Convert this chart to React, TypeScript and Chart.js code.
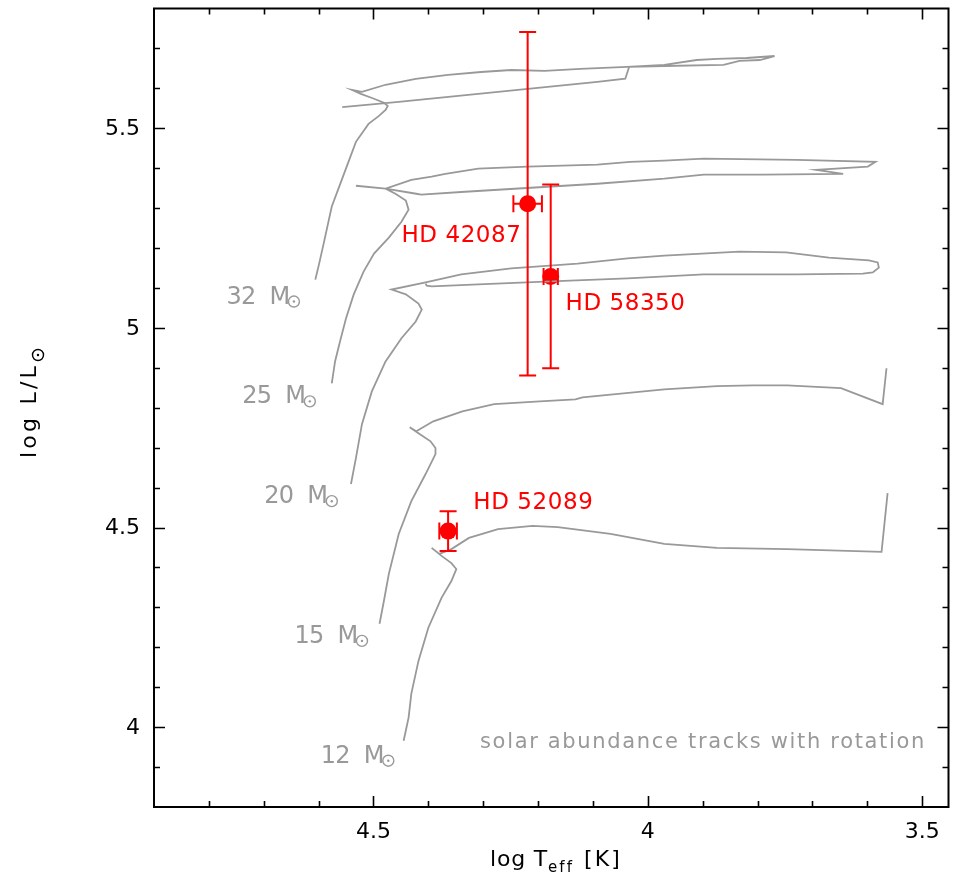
import React, { useEffect, useRef } from 'react';
import { Chart, registerables } from 'chart.js';

Chart.register(...registerables);

// ---- axis ranges & ticks ----
const X_MIN = 3.452;
const X_MAX = 4.9;
const Y_MIN = 3.8;
const Y_MAX = 5.8;
const xTickLabels = [4.5, 4, 3.5];
const xMinorTicks = [4.8, 4.7, 4.6, 4.4, 4.3, 4.2, 4.1, 3.9, 3.8, 3.7, 3.6];
const yTickLabels = [4, 4.5, 5, 5.5];
const yMinorTicks = [3.9, 4.1, 4.2, 4.3, 4.4, 4.6, 4.7, 4.8, 4.9, 5.1, 5.2, 5.3, 5.4, 5.6, 5.7];

// ---- evolutionary tracks (log Teff, log L) ----
const track32T = [4.606, 4.599, 4.590, 4.576, 4.557, 4.532, 4.509, 4.490, 4.478, 4.474, 4.481, 4.499, 4.523, 4.539,
  4.521, 4.478, 4.423, 4.364, 4.304, 4.249, 4.188, 4.123, 4.038, 3.970, 3.911, 3.874, 3.820, 3.769,
  3.796, 3.833, 3.862, 3.970, 4.034, 4.041, 4.092, 4.273, 4.454, 4.557];
const track32L = [5.121, 5.161, 5.216, 5.304, 5.374, 5.466, 5.511, 5.531, 5.546, 5.556, 5.564, 5.574, 5.586, 5.596,
  5.591, 5.609, 5.624, 5.634, 5.641, 5.646, 5.644, 5.649, 5.654, 5.659, 5.671, 5.674, 5.676, 5.681,
  5.671, 5.669, 5.659, 5.656, 5.654, 5.624, 5.616, 5.591, 5.566, 5.553];

const track25T = [4.576, 4.570, 4.561, 4.550, 4.536, 4.518, 4.499, 4.472, 4.449, 4.436, 4.441, 4.460, 4.478,
  4.431, 4.394, 4.369, 4.309, 4.219, 4.092, 4.032, 3.970, 3.898, 3.729, 3.585,
  3.599, 3.693, 3.644, 3.789, 3.898, 3.970, 4.092, 4.213, 4.333, 4.413, 4.422, 4.478, 4.532];
const track25L = [4.861, 4.916, 4.966, 5.024, 5.084, 5.141, 5.186, 5.226, 5.266, 5.296, 5.319, 5.336, 5.349,
  5.371, 5.379, 5.386, 5.399, 5.404, 5.409, 5.416, 5.419, 5.424, 5.421, 5.416,
  5.404, 5.396, 5.386, 5.384, 5.384, 5.374, 5.361, 5.351, 5.341, 5.334, 5.336, 5.349, 5.356];

const track20T = [4.541, 4.532, 4.521, 4.503, 4.478, 4.449, 4.423, 4.412, 4.418, 4.441, 4.467,
  4.405, 4.340, 4.249, 4.128, 4.037, 3.970, 3.833, 3.748, 3.670, 3.597, 3.581, 3.579, 3.590,
  3.608, 3.729, 3.898, 4.037, 4.188, 4.309, 4.394, 4.403, 4.405];
const track20L = [4.609, 4.674, 4.759, 4.841, 4.916, 4.974, 5.016, 5.046, 5.061, 5.084, 5.096,
  5.114, 5.134, 5.149, 5.161, 5.174, 5.181, 5.191, 5.189, 5.176, 5.169, 5.164, 5.151, 5.139,
  5.136, 5.134, 5.134, 5.124, 5.116, 5.109, 5.104, 5.106, 5.111];

const track15T = [4.489, 4.481, 4.472, 4.454, 4.431, 4.405, 4.387, 4.387, 4.396, 4.418, 4.434,
  4.422, 4.391, 4.338, 4.280, 4.197, 4.132, 4.119, 3.970, 3.874, 3.809, 3.746, 3.648, 3.572, 3.565];
const track15L = [4.259, 4.316, 4.384, 4.484, 4.566, 4.634, 4.684, 4.699, 4.716, 4.736, 4.751,
  4.741, 4.766, 4.791, 4.809, 4.816, 4.821, 4.826, 4.846, 4.854, 4.856, 4.856, 4.849, 4.809, 4.899];

const track12T = [4.445, 4.436, 4.431, 4.418, 4.400, 4.376, 4.358, 4.349, 4.358, 4.376, 4.394,
  4.380, 4.358, 4.326, 4.273, 4.210, 4.164, 4.068, 3.970, 3.874, 3.746, 3.574, 3.563];
const track12L = [3.966, 4.024, 4.084, 4.166, 4.249, 4.324, 4.366, 4.396, 4.411, 4.429, 4.449,
  4.434, 4.446, 4.474, 4.496, 4.504, 4.501, 4.484, 4.459, 4.449, 4.446, 4.439, 4.586];

const trackMasses = ['32', '25', '20', '15', '12'];
// label anchors (left edge, baseline) in data coordinates
const massLabelT = [4.768, 4.739, 4.699, 4.644, 4.596];
const massLabelL = [5.061, 4.811, 4.561, 4.211, 3.911];

// ---- observed stars ----
const starNames = ['HD 42087', 'HD 58350', 'HD 52089'];
const starT = [4.219, 4.177, 4.364];
const starL = [5.311, 5.129, 4.491];
const starTErr = [0.026, 0.013, 0.016];
const starLErr = [0.43, 0.23, 0.05];
const starLabelT = [4.449, 4.150, 4.318];
const starLabelL = [5.216, 5.046, 4.546];

const noteText = 'solar abundance tracks with rotation';

// ---- styles ----
const FONT = '"DejaVu Sans", "Liberation Sans", sans-serif';
const RED = '#ff0000';
const GRAY = '#999999';
const TEXT_GRAY = '#999999';

function fitText(ctx: CanvasRenderingContext2D, text: string, x: number, y: number, width: number) {
  (ctx as any).letterSpacing = '0px';
  const w = ctx.measureText(text).width;
  const ls = text.length > 1 ? (width - w) / text.length : 0;
  (ctx as any).letterSpacing = ls + 'px';
  ctx.fillText(text, x, y);
  (ctx as any).letterSpacing = '0px';
}

function sun(ctx: CanvasRenderingContext2D, cx: number, cy: number, r: number, color: string, lw: number) {
  ctx.save();
  ctx.strokeStyle = color;
  ctx.fillStyle = color;
  ctx.lineWidth = lw;
  ctx.beginPath();
  ctx.arc(cx, cy, r, 0, Math.PI * 2);
  ctx.stroke();
  ctx.beginPath();
  ctx.arc(cx, cy, Math.max(1, r * 0.22), 0, Math.PI * 2);
  ctx.fill();
  ctx.restore();
}

const overlayPlugin = {
  id: 'overlay',
  afterDatasetsDraw(chart: any) {
    const { ctx, scales } = chart;
    const x = scales.x;
    const y = scales.y;
    const CAP = 8.5;
    ctx.save();
    ctx.strokeStyle = RED;
    ctx.lineWidth = 2;
    starT.forEach((t, i) => {
      const px = x.getPixelForValue(t);
      const py = y.getPixelForValue(starL[i]);
      const y1 = y.getPixelForValue(starL[i] + starLErr[i]);
      const y2 = y.getPixelForValue(starL[i] - starLErr[i]);
      const x1 = x.getPixelForValue(t + starTErr[i]);
      const x2 = x.getPixelForValue(t - starTErr[i]);
      ctx.beginPath();
      ctx.moveTo(px, y1); ctx.lineTo(px, y2);
      ctx.moveTo(px - CAP, y1); ctx.lineTo(px + CAP, y1);
      ctx.moveTo(px - CAP, y2); ctx.lineTo(px + CAP, y2);
      ctx.moveTo(x1, py); ctx.lineTo(x2, py);
      ctx.moveTo(x1, py - CAP); ctx.lineTo(x1, py + CAP);
      ctx.moveTo(x2, py - CAP); ctx.lineTo(x2, py + CAP);
      ctx.stroke();
    });
    ctx.restore();
  },
  afterDraw(chart: any) {
    const { ctx, chartArea, scales } = chart;
    const x = scales.x;
    const y = scales.y;
    const { left, right, top, bottom } = chartArea;
    ctx.save();
    // frame
    ctx.strokeStyle = '#000';
    ctx.lineWidth = 2;
    ctx.strokeRect(left, top, right - left, bottom - top);
    // ticks (inward, mirrored)
    ctx.lineWidth = 1.6;
    ctx.beginPath();
    const xt = (v: number, len: number) => {
      const p = Math.round(x.getPixelForValue(v)) + 0.5;
      ctx.moveTo(p, bottom); ctx.lineTo(p, bottom - len);
      ctx.moveTo(p, top); ctx.lineTo(p, top + len);
    };
    const yt = (v: number, len: number) => {
      const p = Math.round(y.getPixelForValue(v)) + 0.5;
      ctx.moveTo(left, p); ctx.lineTo(left + len, p);
      ctx.moveTo(right, p); ctx.lineTo(right - len, p);
    };
    xTickLabels.forEach((v) => xt(v, 11));
    xMinorTicks.forEach((v) => xt(v, 6));
    yTickLabels.forEach((v) => yt(v, 11));
    yMinorTicks.forEach((v) => yt(v, 6));
    ctx.stroke();

    // tick labels
    ctx.fillStyle = '#000';
    ctx.font = `22px ${FONT}`;
    ctx.textBaseline = 'middle';
    ctx.textAlign = 'center';
    xTickLabels.forEach((v) => ctx.fillText(String(v), x.getPixelForValue(v), bottom + 25));
    ctx.textAlign = 'right';
    yTickLabels.forEach((v) => ctx.fillText(String(v), left - 14, y.getPixelForValue(v) + 1));

    // mass labels
    ctx.fillStyle = TEXT_GRAY;
    ctx.textBaseline = 'alphabetic';
    ctx.textAlign = 'left';
    trackMasses.forEach((m, i) => {
      const lx = x.getPixelForValue(massLabelT[i]);
      const ly = y.getPixelForValue(massLabelL[i]);
      ctx.font = `24px ${FONT}`;
      fitText(ctx, m, lx, ly, 29);
      ctx.fillText('M', lx + 43, ly);
      sun(ctx, lx + 67.5, ly - 2, 5.5, TEXT_GRAY, 1.4);
    });

    // star labels
    ctx.fillStyle = RED;
    ctx.font = `23px ${FONT}`;
    starNames.forEach((s, i) => {
      const lx = x.getPixelForValue(starLabelT[i]);
      const ly = y.getPixelForValue(starLabelL[i]);
      fitText(ctx, s, lx, ly, 120);
    });

    // note
    ctx.fillStyle = TEXT_GRAY;
    ctx.font = `21px ${FONT}`;
    fitText(ctx, noteText, 480, 748, 446);

    // axis titles
    ctx.fillStyle = '#000';
    ctx.font = `22px ${FONT}`;
    const xb = 866;
    fitText(ctx, 'log T', 490, xb, 58);
    ctx.font = `15px ${FONT}`;
    fitText(ctx, 'eff', 548, xb + 6, 26);
    ctx.font = `22px ${FONT}`;
    fitText(ctx, '[K]', 584, xb, 38);

    ctx.save();
    ctx.translate(36, 458);
    ctx.rotate(-Math.PI / 2);
    ctx.font = `22px ${FONT}`;
    fitText(ctx, 'log L/L', 0, 0, 95);
    sun(ctx, 103, 2, 5.5, '#000', 1.4);
    ctx.restore();

    ctx.restore();
  },
};

function makeTrack(T: number[], L: number[]) {
  return {
    type: 'scatter' as const,
    data: T.map((t, i) => ({ x: t, y: L[i] })),
    showLine: true,
    borderColor: GRAY,
    borderWidth: 1.8,
    pointRadius: 0,
    tension: 0,
    fill: false,
  };
}

export default function App() {
  const canvasRef = useRef<HTMLCanvasElement | null>(null);

  useEffect(() => {
    if (!canvasRef.current) return;
    const chart = new Chart(canvasRef.current, {
      type: 'scatter',
      data: {
        datasets: [
          makeTrack(track32T, track32L),
          makeTrack(track25T, track25L),
          makeTrack(track20T, track20L),
          makeTrack(track15T, track15L),
          makeTrack(track12T, track12L),
          {
            type: 'scatter',
            data: starT.map((t, i) => ({ x: t, y: starL[i] })),
            pointRadius: 8.5,
            pointBackgroundColor: RED,
            pointBorderWidth: 0,
            showLine: false,
          } as any,
        ],
      },
      options: {
        animation: false,
        responsive: false,
        events: [],
        layout: { padding: { left: 0, right: 4, top: 6, bottom: 0 } },
        plugins: { legend: { display: false }, tooltip: { enabled: false }, title: { display: false } },
        scales: {
          x: {
            type: 'linear',
            min: X_MIN,
            max: X_MAX,
            reverse: true,
            grid: { display: false, drawTicks: false },
            border: { display: false },
            ticks: { display: false },
            afterFit: (scale: any) => {
              scale.height = 71;
            },
          },
          y: {
            type: 'linear',
            min: Y_MIN,
            max: Y_MAX,
            grid: { display: false, drawTicks: false },
            border: { display: false },
            ticks: { display: false },
            afterFit: (scale: any) => {
              scale.width = 154;
            },
          },
        },
      },
      plugins: [overlayPlugin],
    } as any);
    return () => chart.destroy();
  }, []);

  return (
    <div style={{ position: 'absolute', left: 0, top: 0, width: 957, height: 878, background: '#fff' }}>
      <canvas ref={canvasRef} width={957} height={878} style={{ display: 'block', width: 957, height: 878 }} />
    </div>
  );
}
